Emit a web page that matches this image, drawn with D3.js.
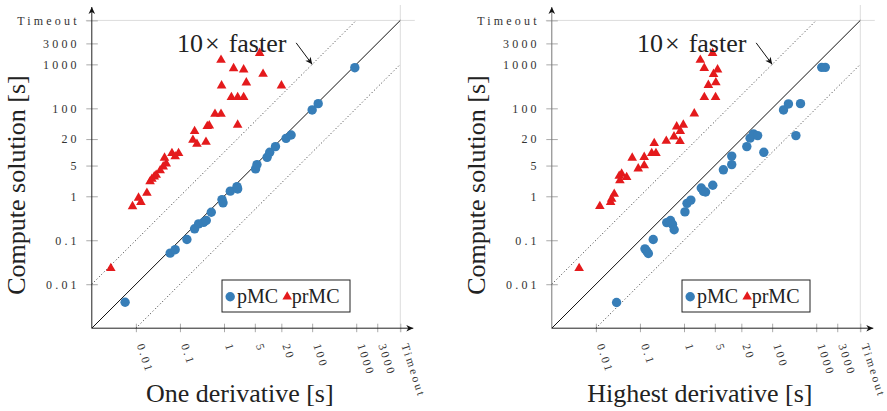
<!DOCTYPE html>
<html>
<head>
<meta charset="utf-8">
<script src="https://cdn.jsdelivr.net/npm/d3@7"></script>
<style>
  body { margin: 0; background: #fff; }
  svg text { font-family: 'Liberation Serif', 'Times New Roman', serif; }
</style>
</head>
<body>
<div id="chart"></div>
<script>
const TIMEOUT = 1e4
const tickValues = [0.01, 0.1, 1, 5, 20, 100, 1000, 3000, TIMEOUT]
const tickLabels = ['0.01', '0.1', '1', '5', '20', '100', '1000', '3000', 'Timeout']
const seriesNames = ['pMC', 'prMC']

// [derivative time, compute solution time] in seconds
const pmcOne = [
  [0.0057, 0.0039], [0.060, 0.051], [0.078, 0.061], [0.144, 0.104], [0.215, 0.182],
  [0.265, 0.236], [0.344, 0.256], [0.396, 0.281], [0.514, 0.433], [0.90, 0.84],
  [0.95, 0.71], [1.39, 1.31], [1.97, 1.66], [2.04, 1.47], [5.2, 4.2], [5.6, 5.25],
  [9.5, 7.7], [10.9, 10.0], [14.7, 13.5], [25.6, 20.8], [33.3, 24.8], [100, 92],
  [137, 128], [929, 841]
]
const prmcOne = [
  [0.0027, 0.023], [0.0084, 0.59], [0.0115, 0.92], [0.013, 0.73], [0.0178, 1.19],
  [0.021, 2.16], [0.0231, 2.48], [0.0261, 2.8], [0.0289, 3.06], [0.0356, 3.84],
  [0.0417, 4.73], [0.0489, 5.53], [0.0447, 7.46], [0.0658, 9.5], [0.093, 9.5],
  [0.078, 8.0], [0.197, 19.1], [0.243, 15.5], [0.215, 30], [0.39, 17.2],
  [0.417, 39], [0.463, 40.4], [0.624, 74.6], [0.855, 74.6], [2.04, 42],
  [1.47, 178], [2.04, 178], [2.79, 178], [0.881, 328], [3.21, 384], [20.1, 328],
  [7.69, 605], [1.65, 811], [2.79, 759], [0.855, 1259], [6.44, 1798]
]
const pmcHighest = [
  [0.0295, 0.00384], [0.130, 0.0638], [0.142, 0.0569], [0.155, 0.0499], [0.200, 0.104],
  [0.405, 0.252], [0.493, 0.281], [0.548, 0.230], [0.598, 0.173], [1.05, 0.441],
  [1.17, 0.69], [1.43, 0.82], [2.46, 1.54], [2.77, 1.29], [3.08, 1.25], [4.49, 1.78],
  [7.82, 4.0], [12.1, 5.25], [12.1, 8.2], [26.6, 13.5], [31.6, 21.0], [37.6, 26.2],
  [46.8, 24.0], [64.7, 10.0], [181, 92], [234, 126], [440, 128], [346, 24],
  [1334, 855], [1603, 855]
]
const prmcHighest = [
  [0.00417, 0.0231], [0.0123, 0.593], [0.0216, 0.73], [0.0228, 0.873], [0.0261, 1.13],
  [0.0351, 2.28], [0.0384, 3.23], [0.0499, 2.70], [0.0339, 2.88], [0.0914, 4.26],
  [0.125, 4.99], [0.0668, 7.46], [0.125, 7.78], [0.185, 9.49], [0.231, 9.49],
  [0.211, 16.0], [0.396, 18.0], [0.811, 17.9], [0.593, 22.7], [0.822, 30.3],
  [0.682, 38.4], [0.964, 42.0], [1.71, 75.8], [2.89, 178], [5.2, 178], [3.57, 337],
  [5.28, 388], [4.68, 599], [2.88, 820], [5.77, 759], [2.34, 1259], [4.45, 1798]
]

const blue = '#377eb8'
const red = '#e41a1c'

const svg = d3.select('#chart')
  .append('svg')
  .attr('width', 887)
  .attr('height', 411)

svg.append('defs')
  .append('marker')
  .attr('id', 'arrow')
  .attr('viewBox', '-8 -4 9 8')
  .attr('refX', 0)
  .attr('refY', 0)
  .attr('markerWidth', 9)
  .attr('markerHeight', 8)
  .attr('markerUnits', 'userSpaceOnUse')
  .attr('orient', 'auto')
  .append('path')
  .attr('d', 'M0,0L-7,-3.3L-5,0L-7,3.3Z')
  .attr('fill', '#111')

function drawPanel(ox, xTitle, pmc, prmc, yAxisColor) {
  const x = d3.scaleLog().domain([1e-3, TIMEOUT]).range([ox, ox + 308.5])
  const y = d3.scaleLog().domain([1e-3, TIMEOUT]).range([328.2, 20.4])
  const y0 = y(1e-3)
  const g = svg.append('g')

  // timeout grid lines
  g.append('line')
    .attr('x1', ox - 6).attr('x2', ox + 323)
    .attr('y1', y(TIMEOUT)).attr('y2', y(TIMEOUT))
    .attr('stroke', '#dcdcdc')
  g.append('line')
    .attr('x1', x(TIMEOUT)).attr('x2', x(TIMEOUT))
    .attr('y1', 5).attr('y2', y0 + 4)
    .attr('stroke', '#dcdcdc')

  // y axis
  const yAxis = g.append('g')
    .attr('transform', `translate(${ox}, 0)`)
    .call(d3.axisLeft(y).tickValues(tickValues)
      .tickFormat((d, i) => tickLabels[i]).tickSize(5.5).tickPadding(10))
  yAxis.select('.domain').remove()
  yAxis.selectAll('.tick line').attr('x1', 6).attr('stroke', '#aaa')
  yAxis.selectAll('.tick text')
    .attr('x', -12)
    .attr('fill', '#333')
    .style('font-size', '12px')
    .style('letter-spacing', '3.2px')

  // x axis
  const xAxis = g.append('g')
    .attr('transform', `translate(0, ${y0})`)
    .call(d3.axisBottom(x).tickValues(tickValues)
      .tickFormat((d, i) => tickLabels[i]).tickSize(4))
  xAxis.select('.domain').remove()
  xAxis.selectAll('.tick line').attr('y1', -4.5).attr('stroke', '#aaa')
  xAxis.selectAll('.tick text')
    .attr('x', 0).attr('y', 0).attr('dy', 0)
    .attr('text-anchor', 'start')
    .attr('transform', 'translate(0.5, 17) rotate(72)')
    .attr('fill', '#333')
    .style('font-size', '11.5px')
    .style('letter-spacing', '2.5px')

  // axis lines with arrows
  g.append('line')
    .attr('x1', ox).attr('x2', ox + 321.5)
    .attr('y1', y0).attr('y2', y0)
    .attr('stroke', '#222')
    .attr('marker-end', 'url(#arrow)')
  g.append('line')
    .attr('x1', ox).attr('x2', ox)
    .attr('y1', y0).attr('y2', 7)
    .attr('stroke', yAxisColor)
    .attr('marker-end', 'url(#arrow)')

  // reference lines: equal, 10x faster, 10x slower
  const line = d3.line().x((d) => x(d[0])).y((d) => y(d[1]))
  g.append('path')
    .attr('d', line([[1e-3, 1e-3], [TIMEOUT, TIMEOUT]]))
    .attr('stroke', '#111').attr('fill', 'none')
  g.append('path')
    .attr('d', line([[1e-3, 1e-2], [TIMEOUT / 10, TIMEOUT]]))
    .attr('stroke', '#333').attr('stroke-dasharray', '1 2.4').attr('fill', 'none')
  g.append('path')
    .attr('d', line([[1e-2, 1e-3], [TIMEOUT, TIMEOUT / 10]]))
    .attr('stroke', '#333').attr('stroke-dasharray', '1 2.4').attr('fill', 'none')

  // points
  g.append('g')
    .selectAll('circle')
    .data(pmc)
    .join('circle')
    .attr('cx', (d) => x(d[0]))
    .attr('cy', (d) => y(d[1]))
    .attr('r', 4.7)
    .attr('fill', blue)

  const tri = d3.symbol(d3.symbolTriangle, 40)
  g.append('g')
    .selectAll('path')
    .data(prmc)
    .join('path')
    .attr('d', tri)
    .attr('transform', (d) => `translate(${x(d[0])}, ${y(d[1])})`)
    .attr('fill', red)

  // annotation
  const tipX = x(100)
  const tipY = y(1000)
  const note = g.append('text')
    .attr('x', ox + 85.2)
    .attr('y', 52)
    .style('font-size', '26px')
    .attr('fill', '#222')
  note.append('tspan').text('10')
  note.append('tspan').attr('dx', 2).text('×')
  note.append('tspan').attr('dx', 9).text('faster')
  g.append('line')
    .attr('x1', tipX - 16).attr('y1', tipY - 21.5)
    .attr('x2', tipX).attr('y2', tipY)
    .attr('stroke', '#111')
    .attr('marker-end', 'url(#arrow)')

  // legend
  const lg = g.append('g').attr('transform', `translate(${ox + 130.2}, 280)`)
  lg.append('rect')
    .attr('width', 128).attr('height', 32)
    .attr('fill', '#fff').attr('stroke', '#222')
  lg.append('circle').attr('cx', 8.2).attr('cy', 16.7).attr('r', 4.7).attr('fill', blue)
  lg.append('text').attr('x', 15).attr('y', 22.5)
    .style('font-size', '20px').attr('fill', '#222').text(seriesNames[0])
  lg.append('path').attr('d', tri)
    .attr('transform', 'translate(65.2, 16.8)').attr('fill', red)
  lg.append('text').attr('x', 69.7).attr('y', 22.5)
    .style('font-size', '20px').attr('fill', '#222').text(seriesNames[1])

  // axis titles
  g.append('text')
    .attr('x', ox + 148)
    .attr('y', 402)
    .attr('text-anchor', 'middle')
    .style('font-size', '26px')
    .attr('fill', '#222')
    .text(xTitle)
  g.append('text')
    .attr('transform', `translate(${ox - 67}, 185) rotate(-90)`)
    .attr('text-anchor', 'middle')
    .style('font-size', '26px')
    .attr('fill', '#222')
    .text('Compute solution [s]')
}

drawPanel(91.8, 'One derivative [s]', pmcOne, prmcOne, '#222')
drawPanel(551.8, 'Highest derivative [s]', pmcHighest, prmcHighest, '#777')
</script>
</body>
</html>
